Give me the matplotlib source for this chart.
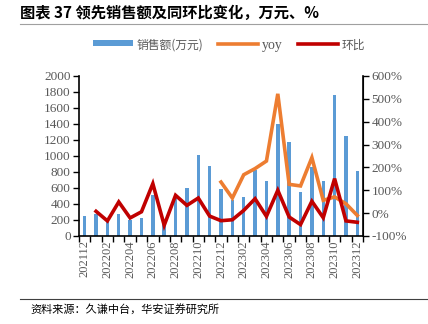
import matplotlib.pyplot as plt
import numpy as np

months = ['202112', '202201', '202202', '202203', '202204', '202205', '202206',
          '202207', '202208', '202209', '202210', '202211', '202212',
          '202301', '202302', '202303', '202304', '202305', '202306',
          '202307', '202308', '202309', '202310', '202311', '202312']
sales = [246, 280, 200, 271, 204, 225, 517, 180, 470, 600, 1008, 871, 592,
         450, 483, 821, 688, 1396, 1175, 550, 862, 688, 1758, 1250, 808]
yoy = [np.nan] * 12 + [136, 66, 168, 195, 228, 522, 126, 119, 243, 56, 71, 41, -10]
mom = [np.nan, 8, -34, 49, -21, 6, 129, -53, 78, 34, 66, -13, -33,
       -29, 12, 63, -14, 100, -17, -50, 52, -20, 151, -34, -40]

cjk = ['Noto Sans CJK SC', 'DejaVu Sans']
plt.rcParams['font.family'] = ['Liberation Serif', 'DejaVu Serif']
gray = '#595959'

fig = plt.figure(figsize=(4.28, 3.24), dpi=100)
ax = fig.add_axes([79 / 428, 1 - 236 / 324, 284 / 428, 160 / 324])
ax2 = ax.twinx()

x = np.arange(len(months))
bars = ax.bar(x, sales, width=0.3, color='#5B9BD5', label='销售额(万元)', zorder=2)
l1, = ax2.plot(x, yoy, color='#ED7D31', lw=2.6, label='yoy', solid_joinstyle='miter')
l2, = ax2.plot(x, mom, color='#C00000', lw=2.6, label='环比', solid_joinstyle='miter')

ax.set_xlim(-0.5, len(months) - 0.5)
ax.set_ylim(0, 2000)
ax.set_yticks(np.arange(0, 2001, 200))
ax2.set_ylim(-100, 600)
ax2.set_yticks(np.arange(-100, 601, 100))
ax2.set_yticklabels([f'{v}%' for v in range(-100, 601, 100)])

ax.set_xticks(np.arange(-0.5, len(months), 1))
ax.set_xticklabels([])
ax.set_xticks(x[::2], minor=True)
ax.set_xticklabels(months[::2], minor=True, rotation=90, fontsize=9, color=gray)
ax.tick_params(axis='x', which='major', length=4, width=1, direction='out')
ax.tick_params(axis='x', which='minor', length=0, pad=3)

for a in (ax, ax2):
    a.spines['top'].set_visible(False)
    a.tick_params(axis='y', length=4, width=1, direction='out', colors='black',
                  labelcolor=gray, labelsize=9.5, pad=2)
ax.spines['left'].set_linewidth(1.2)
ax2.spines['right'].set_linewidth(1.2)
ax.spines['bottom'].set_linewidth(1.2)
ax2.spines['left'].set_visible(False)
ax2.spines['bottom'].set_visible(False)

leg = fig.legend(handles=[bars, l1, l2], loc='center', bbox_to_anchor=(229 / 428, 1 - 45 / 324),
                 ncol=3, frameon=False, prop={'family': cjk, 'size': 8.5},
                 handlelength=3.4, handletextpad=0.3, columnspacing=1.3)
for t in leg.get_texts():
    t.set_color(gray)
leg.get_texts()[1].set_family(['Liberation Serif'])
leg.get_texts()[1].set_fontsize(10)
leg.legend_handles[0].set_height(4)
leg.legend_handles[0].set_y(2)

fig.text(20 / 428, 1 - 13 / 324, '图表 37 领先销售额及同环比变化，万元、%', family=cjk,
         fontsize=11, fontweight='heavy', va='center', ha='left')
fig.add_artist(plt.Line2D([20 / 428, 1], [1 - 24 / 324] * 2, color='#A0A0A0', lw=0.8))
fig.add_artist(plt.Line2D([20 / 428, 1], [1 - 299 / 324] * 2, color='#404040', lw=0.8))
fig.text(30 / 428, 1 - 309 / 324, '资料来源：久谦中台，华安证券研究所', family=cjk,
         fontsize=8, va='center', ha='left')

fig.savefig('out.png', dpi=100)
